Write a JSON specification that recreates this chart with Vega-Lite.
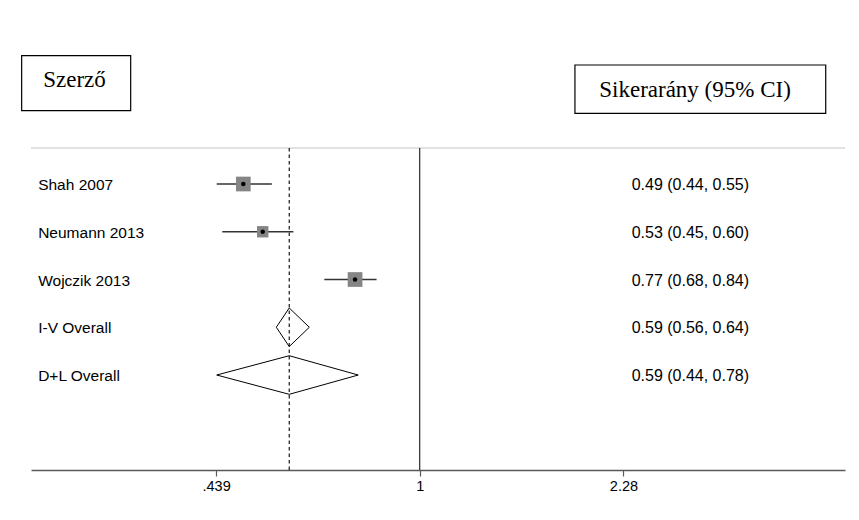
{
  "$schema": "https://vega.github.io/schema/vega-lite/v6.json",
  "width": 814,
  "height": 322,
  "autosize": {"type": "none"},
  "padding": {"left": 31, "top": 148, "right": 14, "bottom": 50},
  "background": "white",
  "config": {"view": {"stroke": null}, "font": "Liberation Sans"},
  "data": {"values": [
    {"study": "Shah 2007", "row": 1, "est": 0.49, "lo": 0.44, "hi": 0.55, "weight": 38.5, "kind": "study", "ci": "0.49 (0.44, 0.55)"},
    {"study": "Neumann 2013", "row": 2, "est": 0.53, "lo": 0.45, "hi": 0.60, "weight": 23, "kind": "study", "ci": "0.53 (0.45, 0.60)"},
    {"study": "Wojczik 2013", "row": 3, "est": 0.77, "lo": 0.68, "hi": 0.84, "weight": 38.5, "kind": "study", "ci": "0.77 (0.68, 0.84)"},
    {"study": "I-V Overall", "row": 4, "est": 0.59, "lo": 0.56, "hi": 0.64, "kind": "overall", "ci": "0.59 (0.56, 0.64)"},
    {"study": "D+L Overall", "row": 5, "est": 0.59, "lo": 0.44, "hi": 0.78, "kind": "overall", "ci": "0.59 (0.44, 0.78)"}
  ]},
  "layer": [
    {
      "data": {"values": [{}]},
      "mark": {"type": "rule", "color": "#c4c4c4", "strokeWidth": 1},
      "encoding": {
        "y": {"datum": 0.246, "type": "quantitative", "scale": {"domain": [0.246, 6.989], "reverse": true, "nice": false, "zero": false}, "axis": null}
      }
    },
    {
      "data": {"values": [{}]},
      "mark": {"type": "rule", "color": "#3a3a3a", "strokeWidth": 1.3},
      "encoding": {
        "x": {"datum": 1, "type": "quantitative", "scale": {"type": "log", "domain": [0.2076, 5.587], "nice": false},
          "axis": {"values": [0.439, 1, 2.28], "format": ".3~g", "labelExpr": "datum.value < 1 ? replace(datum.label, '0.', '.') : datum.label", "title": null, "grid": false, "domainColor": "#5a5a5a", "domainWidth": 1.5, "tickColor": "#5a5a5a", "tickWidth": 1.2, "tickSize": 6, "labelFont": "Liberation Sans", "labelFontSize": 14.5, "labelColor": "black", "labelPadding": 3}}
      }
    },
    {
      "data": {"values": [{}]},
      "mark": {"type": "rule", "color": "black", "strokeWidth": 1.1, "strokeDash": [3.5, 3]},
      "encoding": {"x": {"datum": 0.59, "type": "quantitative"}}
    },
    {
      "transform": [{"filter": "datum.kind === 'study'"}],
      "mark": {"type": "rule", "color": "#333333", "strokeWidth": 1.4},
      "encoding": {
        "x": {"field": "lo", "type": "quantitative"},
        "x2": {"field": "hi"},
        "y": {"field": "row", "type": "quantitative"}
      }
    },
    {
      "transform": [{"filter": "datum.kind === 'study'"}],
      "mark": {"type": "point", "shape": "square", "filled": true, "color": "#858585", "opacity": 1},
      "encoding": {
        "x": {"field": "est", "type": "quantitative"},
        "y": {"field": "row", "type": "quantitative"},
        "size": {"field": "weight", "type": "quantitative", "scale": {"domain": [0, 40], "range": [0, 225]}, "legend": null}
      }
    },
    {
      "transform": [{"filter": "datum.kind === 'study'"}],
      "mark": {"type": "point", "shape": "circle", "filled": true, "color": "black", "size": 20, "opacity": 1},
      "encoding": {
        "x": {"field": "est", "type": "quantitative"},
        "y": {"field": "row", "type": "quantitative"}
      }
    },
    {
      "transform": [{"filter": "datum.kind === 'overall'"}],
      "mark": {"type": "rule", "color": "black", "strokeWidth": 1, "y2Offset": -19.3},
      "encoding": {
        "x": {"field": "lo", "type": "quantitative"}, "x2": {"field": "est"},
        "y": {"field": "row", "type": "quantitative"}, "y2": {"field": "row"}
      }
    },
    {
      "transform": [{"filter": "datum.kind === 'overall'"}],
      "mark": {"type": "rule", "color": "black", "strokeWidth": 1, "yOffset": -19.3},
      "encoding": {
        "x": {"field": "est", "type": "quantitative"}, "x2": {"field": "hi"},
        "y": {"field": "row", "type": "quantitative"}, "y2": {"field": "row"}
      }
    },
    {
      "transform": [{"filter": "datum.kind === 'overall'"}],
      "mark": {"type": "rule", "color": "black", "strokeWidth": 1, "y2Offset": 19.3},
      "encoding": {
        "x": {"field": "hi", "type": "quantitative"}, "x2": {"field": "est"},
        "y": {"field": "row", "type": "quantitative"}, "y2": {"field": "row"}
      }
    },
    {
      "transform": [{"filter": "datum.kind === 'overall'"}],
      "mark": {"type": "rule", "color": "black", "strokeWidth": 1, "yOffset": 19.3},
      "encoding": {
        "x": {"field": "est", "type": "quantitative"}, "x2": {"field": "lo"},
        "y": {"field": "row", "type": "quantitative"}, "y2": {"field": "row"}
      }
    },
    {
      "mark": {"type": "text", "align": "left", "baseline": "middle", "font": "Liberation Sans", "fontSize": 15.5, "color": "black", "dy": 1},
      "encoding": {
        "x": {"datum": 0.2137, "type": "quantitative"},
        "y": {"field": "row", "type": "quantitative"},
        "text": {"field": "study"}
      }
    },
    {
      "mark": {"type": "text", "align": "left", "baseline": "middle", "font": "Liberation Sans", "fontSize": 16, "color": "black", "dy": 1},
      "encoding": {
        "x": {"datum": 2.357, "type": "quantitative"},
        "y": {"field": "row", "type": "quantitative"},
        "text": {"field": "ci"}
      }
    },
    {
      "data": {"values": [{}]},
      "mark": {"type": "rect", "fill": "white", "stroke": "black", "strokeWidth": 1.2},
      "encoding": {
        "x": {"datum": 0.1999, "type": "quantitative"}, "x2": {"datum": 0.3107},
        "y": {"datum": -1.687, "type": "quantitative"}, "y2": {"datum": -0.535}
      }
    },
    {
      "data": {"values": [{}]},
      "mark": {"type": "rect", "fill": "white", "stroke": "black", "strokeWidth": 1.2},
      "encoding": {
        "x": {"datum": 1.874, "type": "quantitative"}, "x2": {"datum": 5.168},
        "y": {"datum": -1.492, "type": "quantitative"}, "y2": {"datum": -0.481}
      }
    },
    {
      "data": {"values": [{"h": "Szerző"}]},
      "mark": {"type": "text", "align": "center", "baseline": "alphabetic", "font": "Liberation Serif", "fontSize": 23, "color": "black"},
      "encoding": {
        "x": {"datum": 0.2475, "type": "quantitative"},
        "y": {"datum": -1.031, "type": "quantitative"},
        "text": {"field": "h"}
      }
    },
    {
      "data": {"values": [{"h": "Sikerarány (95% CI)"}]},
      "mark": {"type": "text", "align": "center", "baseline": "alphabetic", "font": "Liberation Serif", "fontSize": 23, "color": "black"},
      "encoding": {
        "x": {"datum": 3.046, "type": "quantitative"},
        "y": {"datum": -0.828, "type": "quantitative"},
        "text": {"field": "h"}
      }
    }
  ]
}
